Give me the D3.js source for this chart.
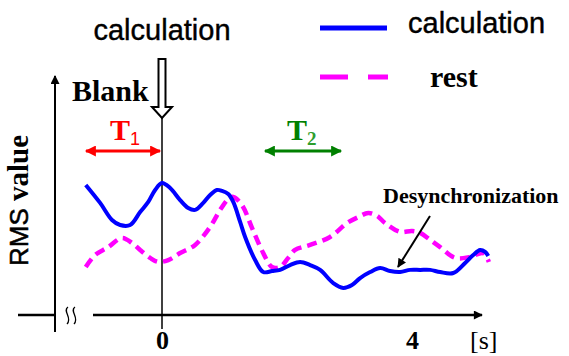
<!DOCTYPE html>
<html>
<head>
<meta charset="utf-8">
<script src="https://cdn.jsdelivr.net/npm/d3@7"></script>
<style>
  body { margin: 0; background: #fff; }
  svg { display: block; }
</style>
</head>
<body>
<div id="chart-area"></div>
<script>
// Data (time in s, RMS value in arbitrary units)
const calcTime = [-1.22, -0.99, -0.80, -0.67, -0.51, -0.35, -0.22, -0.11, 0, 0.13, 0.29, 0.42, 0.53, 0.66, 0.77, 0.88, 0.96, 1.06, 1.14, 1.25, 1.33, 1.49, 1.62, 1.76, 1.89, 2.05, 2.21, 2.37, 2.53, 2.74, 2.90, 3.04, 3.17, 3.33, 3.49, 3.65, 3.81, 3.97, 4.13, 4.29, 4.45, 4.66, 4.85, 4.98, 5.09, 5.17, 5.22];
const calcValue = [5.42, 4.67, 3.96, 3.75, 3.75, 4.29, 4.71, 5.21, 5.50, 5.29, 4.79, 4.46, 4.38, 4.67, 5.00, 5.21, 5.17, 5.04, 4.71, 3.88, 3.25, 2.29, 1.79, 1.83, 1.88, 2.08, 2.21, 2.08, 1.88, 1.33, 1.13, 1.25, 1.54, 1.79, 1.96, 1.83, 1.79, 1.88, 1.88, 1.88, 1.79, 1.75, 2.17, 2.50, 2.71, 2.63, 2.46];

const restTime = [-1.22, -1.07, -0.86, -0.64, -0.48, -0.35, -0.19, -0.06, 0.10, 0.29, 0.53, 0.77, 0.93, 1.06, 1.14, 1.28, 1.44, 1.62, 1.76, 1.89, 2.02, 2.13, 2.37, 2.69, 2.96, 3.14, 3.30, 3.44, 3.57, 3.81, 4.00, 4.13, 4.29, 4.45, 4.69, 4.93, 5.14, 5.23];
const restValue = [2.00, 2.50, 2.83, 3.21, 3.00, 2.71, 2.38, 2.21, 2.29, 2.58, 2.92, 3.67, 4.38, 4.83, 4.92, 4.58, 3.63, 2.58, 2.00, 2.00, 2.38, 2.71, 2.92, 3.25, 3.83, 4.08, 4.25, 4.13, 3.83, 3.46, 3.50, 3.42, 3.13, 2.83, 2.38, 2.42, 2.58, 2.21];

const tickValues = [0, 4];
const seriesNames = ['calculation', 'rest'];

const width = 569;
const height = 356;

const svg = d3.select('#chart-area')
    .append('svg')
    .attr('width', width)
    .attr('height', height);

// Scales
const x = d3.scaleLinear().domain([0, 4]).range([162, 412]);
const y = d3.scaleLinear().domain([0, 10]).range([315, 75]);

const sans = '"Liberation Sans", Arial, sans-serif';
const serif = '"Liberation Serif", "Times New Roman", serif';

// Arrow markers
const defs = svg.append('defs');
function marker(id, color, w, h) {
    defs.append('marker')
        .attr('id', id)
        .attr('viewBox', '0 0 10 10')
        .attr('refX', 9).attr('refY', 5)
        .attr('markerUnits', 'userSpaceOnUse')
        .attr('markerWidth', w).attr('markerHeight', h)
        .attr('orient', 'auto-start-reverse')
        .append('path')
        .attr('d', 'M0,0 L10,5 L0,10 Z')
        .attr('fill', color);
}
marker('arrBlack', '#000', 11, 9);
marker('arrRed', '#ff0000', 12, 11);
marker('arrGreen', '#008000', 12, 11);

// Y axis (arrow upward)
svg.append('line')
    .attr('x1', 55).attr('y1', 332)
    .attr('x2', 55).attr('y2', 76)
    .attr('stroke', '#000').attr('stroke-width', 2)
    .attr('marker-end', 'url(#arrBlack)');

// X axis with break
svg.append('line')
    .attr('x1', 18).attr('y1', 315)
    .attr('x2', 54).attr('y2', 315)
    .attr('stroke', '#000').attr('stroke-width', 2.5);
svg.append('line')
    .attr('x1', 93).attr('y1', 315)
    .attr('x2', 482).attr('y2', 315)
    .attr('stroke', '#000').attr('stroke-width', 2.5)
    .attr('marker-end', 'url(#arrBlack)');

// break squiggles
[67, 74].forEach((bx) => {
    svg.append('path')
        .attr('d', `M${bx + 1},307 C${bx - 5},311 ${bx + 6},318 ${bx},324`)
        .attr('fill', 'none')
        .attr('stroke', '#000')
        .attr('stroke-width', 1.3);
});

// Tick labels
const xAxisCall = d3.axisBottom(x)
    .tickValues(tickValues)
    .tickSize(0)
    .tickFormat(d3.format('d'));
const xAxis = svg.append('g').call(xAxisCall);
xAxis.select('.domain').remove();
xAxis.selectAll('text')
    .attr('y', 349)
    .attr('dy', null)
    .attr('font-family', serif)
    .attr('font-weight', 'bold')
    .attr('font-size', '26px')
    .attr('fill', '#000');

svg.append('text')
    .attr('x', 470).attr('y', 349)
    .attr('font-family', serif)
    .attr('font-size', '26px')
    .text('[s]');

// Y label
const yLabel = svg.append('text')
    .attr('transform', 'translate(28, 266) rotate(-90)')
    .attr('text-anchor', 'start');
yLabel.append('tspan')
    .attr('font-family', sans)
    .attr('font-size', '26px')
    .attr('stroke', '#000')
    .attr('stroke-width', 0.5)
    .text('RMS');
yLabel.append('tspan')
    .attr('font-family', serif)
    .attr('font-weight', 'bold')
    .attr('font-size', '29px')
    .text(' value');

// Vertical line at t = 0
svg.append('line')
    .attr('x1', x(0)).attr('y1', 118)
    .attr('x2', x(0)).attr('y2', 329)
    .attr('stroke', '#000').attr('stroke-width', 1.5);

// Hollow arrow marking calculation start
const ax = x(0);
svg.append('path')
    .attr('d', `M${ax - 3.5},59 L${ax + 3.5},59 L${ax + 3.5},107 L${ax + 10},107 L${ax},118 L${ax - 10},107 L${ax - 3.5},107 Z`)
    .attr('fill', '#fff')
    .attr('stroke', '#000')
    .attr('stroke-width', 2);

svg.append('text')
    .attr('x', ax).attr('y', 40)
    .attr('text-anchor', 'middle')
    .attr('font-family', sans)
    .attr('font-size', '29px')
    .attr('stroke', '#000')
    .attr('stroke-width', 0.4)
    .text('calculation');

svg.append('text')
    .attr('x', 72).attr('y', 101)
    .attr('font-family', serif)
    .attr('font-weight', 'bold')
    .attr('font-size', '30px')
    .text('Blank');

// T1 / T2 intervals
svg.append('line')
    .attr('x1', 86).attr('y1', 151)
    .attr('x2', 160).attr('y2', 151)
    .attr('stroke', '#ff0000').attr('stroke-width', 3)
    .attr('marker-start', 'url(#arrRed)')
    .attr('marker-end', 'url(#arrRed)');
const t1 = svg.append('text').attr('x', 110).attr('y', 140).attr('fill', '#ff0000');
t1.append('tspan').attr('font-family', serif).attr('font-weight', 'bold').attr('font-size', '30px').text('T');
t1.append('tspan').attr('font-family', sans).attr('font-size', '18px').attr('dy', 5).text('1');

svg.append('line')
    .attr('x1', 265).attr('y1', 151)
    .attr('x2', 341).attr('y2', 151)
    .attr('stroke', '#008000').attr('stroke-width', 3)
    .attr('marker-start', 'url(#arrGreen)')
    .attr('marker-end', 'url(#arrGreen)');
const t2 = svg.append('text').attr('x', 287).attr('y', 140).attr('fill', '#008000');
t2.append('tspan').attr('font-family', serif).attr('font-weight', 'bold').attr('font-size', '30px').text('T');
t2.append('tspan').attr('font-family', serif).attr('font-weight', 'bold').attr('font-size', '19px').attr('fill', '#2e9e2e').attr('dy', 5).text('2');

// Lines
const line = d3.line()
    .x((d) => x(d[0]))
    .y((d) => y(d[1]))
    .curve(d3.curveCatmullRom.alpha(0.5));

const restData = restTime.map((t, i) => [t, restValue[i]]);
const calcData = calcTime.map((t, i) => [t, calcValue[i]]);

svg.append('path')
    .datum(restData)
    .attr('d', line)
    .attr('fill', 'none')
    .attr('stroke', '#ff00ff')
    .attr('stroke-width', 4.5)
    .attr('stroke-dasharray', '10,6');

svg.append('path')
    .datum(calcData)
    .attr('d', line)
    .attr('fill', 'none')
    .attr('stroke', '#0000ff')
    .attr('stroke-width', 4)
    .attr('stroke-linejoin', 'round');

// Legend
svg.append('line')
    .attr('x1', 320).attr('y1', 28)
    .attr('x2', 387).attr('y2', 28)
    .attr('stroke', '#0000ff').attr('stroke-width', 5);
svg.append('text')
    .attr('x', 408).attr('y', 33)
    .attr('font-family', sans)
    .attr('font-size', '29px')
    .attr('stroke', '#000')
    .attr('stroke-width', 0.4)
    .text(seriesNames[0]);

svg.append('line')
    .attr('x1', 320).attr('y1', 77)
    .attr('x2', 388).attr('y2', 77)
    .attr('stroke', '#ff00ff').attr('stroke-width', 5)
    .attr('stroke-dasharray', '28,20');
svg.append('text')
    .attr('x', 430).attr('y', 87)
    .attr('font-family', serif)
    .attr('font-weight', 'bold')
    .attr('font-size', '30px')
    .text(seriesNames[1]);

// Desynchronization annotation
svg.append('text')
    .attr('x', 383).attr('y', 203)
    .attr('font-family', serif)
    .attr('font-weight', 'bold')
    .attr('font-size', '22px')
    .text('Desynchronization');
svg.append('line')
    .attr('x1', 430).attr('y1', 216)
    .attr('x2', 398).attr('y2', 267)
    .attr('stroke', '#000').attr('stroke-width', 2)
    .attr('marker-end', 'url(#arrBlack)');
</script>
</body>
</html>
